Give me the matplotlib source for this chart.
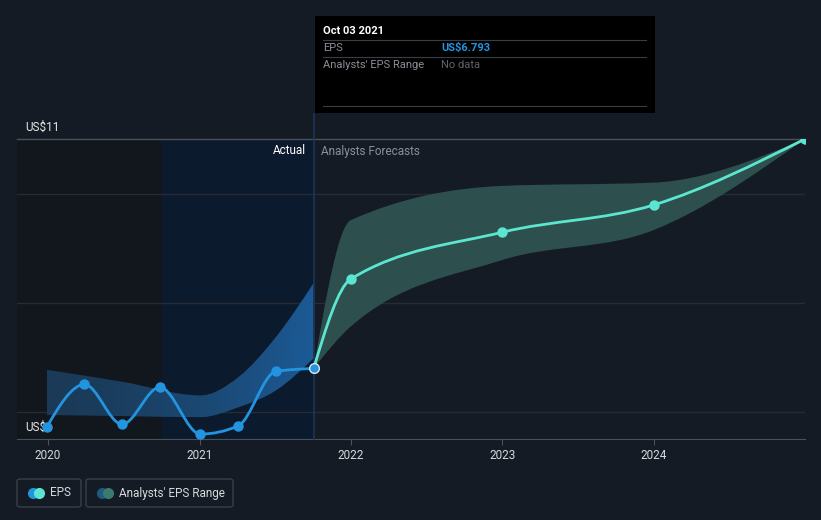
"""EPS history and analyst forecast chart, dark theme."""

import matplotlib
matplotlib.use("Agg")
import matplotlib.pyplot as plt
import numpy as np
import pandas as pd
from matplotlib.patches import FancyBboxPatch, PathPatch, Rectangle
from matplotlib.path import Path

plt.rcParams["font.family"] = ["Roboto", "DejaVu Sans"]

# actual EPS (US$)
actual_dates = ["2019-12-29", "2020-03-29", "2020-06-28", "2020-09-27",
                "2021-01-03", "2021-04-04", "2021-07-04", "2021-10-03"]
actual_eps = [5.72, 6.50, 5.77, 6.45, 5.59, 5.74, 6.74, 6.793]

# analysts' past range around the actuals
past_range_dates = ["2019-12-29", "2020-06-28", "2021-01-03", "2021-04-04",
                    "2021-07-04", "2021-10-03"]
past_range_high = [6.77, 6.55, 6.30, 6.63, 7.37, 8.36]
past_range_low = [5.94, 5.92, 5.90, 6.08, 6.39, 6.98]

# forecasts
forecast_dates = ["2021-10-03", "2021-12-31", "2022-12-31", "2023-12-31", "2024-12-31"]
forecast_eps = [6.793, 8.43, 9.29, 9.79, 11.0]
forecast_high = [6.793, 9.51, 10.14, 10.20, 11.0]
forecast_low = [6.793, 7.56, 8.78, 9.33, 11.0]

year_ticks = [2020, 2021, 2022, 2023, 2024]
y_grid = [6, 8, 10]
y_top = 11

BG = "#151b24"
BLUE = "#2394df"
TEAL = "#5ce5cf"


def to_year(dates):
    d = pd.to_datetime(dates)
    start = pd.to_datetime([f"{y}-01-01" for y in d.year])
    end = pd.to_datetime([f"{y + 1}-01-01" for y in d.year])
    return np.asarray(d.year + (d - start) / (end - start), dtype=float)


def monotone_slopes(x, y):
    x = np.asarray(x, float)
    y = np.asarray(y, float)
    n = len(x)
    h = np.diff(x)
    s = np.diff(y) / h
    m = np.zeros(n)
    for i in range(1, n - 1):
        p = (s[i - 1] * h[i] + s[i] * h[i - 1]) / (h[i - 1] + h[i])
        m[i] = (np.sign(s[i - 1]) + np.sign(s[i])) * min(abs(s[i - 1]), abs(s[i]), 0.5 * abs(p))
    if n > 2:
        m[0] = (3 * s[0] - m[1]) / 2
        m[-1] = (3 * s[-1] - m[-2]) / 2
    else:
        m[:] = s[0]
    return m


def curve_vertices(x, y):
    m = monotone_slopes(x, y)
    verts = [(x[0], y[0])]
    codes = [Path.MOVETO]
    for i in range(len(x) - 1):
        h = (x[i + 1] - x[i]) / 3
        verts += [(x[i] + h, y[i] + m[i] * h),
                  (x[i + 1] - h, y[i + 1] - m[i + 1] * h),
                  (x[i + 1], y[i + 1])]
        codes += [Path.CURVE4] * 3
    return verts, codes


def curve_path(x, y):
    verts, codes = curve_vertices(x, y)
    return Path(verts, codes)


def band_path(x, lo, hi):
    v1, c1 = curve_vertices(x, hi)
    v2, c2 = curve_vertices(x[::-1], lo[::-1])
    c2[0] = Path.LINETO
    verts = v1 + v2 + [v1[0]]
    codes = c1 + c2 + [Path.CLOSEPOLY]
    return Path(verts, codes)


xa = to_year(actual_dates)
xr = to_year(past_range_dates)
xf = to_year(forecast_dates)
x_now = xa[-1]

fig = plt.figure(figsize=(8.21, 5.2), dpi=100, facecolor=BG)
ax = fig.add_axes([17 / 821, 81 / 520, 788 / 821, 300 / 520])
ax.set_facecolor(BG)
x0, x1 = 2019.795, 2024.997
ax.set_xlim(x0, x1)
ax.set_ylim(5.5, y_top)

# shaded "actual" regions
ax.axvspan(x0, x_now - 1, color="#12161d", zorder=0, lw=0)
ax.axvspan(x_now - 1, x_now, color="#0c1a2e", zorder=0, lw=0)

for g in y_grid:
    ax.axhline(g, color="#262c36", lw=1, zorder=1)
ax.axhline(y_top, color="#4b515b", lw=1, zorder=1, clip_on=False)

# past analysts' range with a left-to-right gradient
past_band = PathPatch(band_path(xr, np.array(past_range_low), np.array(past_range_high)),
                      facecolor="none", edgecolor="none")
ax.add_patch(past_band)
grad = np.linspace(0, 1, 256).reshape(1, -1) ** 1.5
cmap = matplotlib.colors.LinearSegmentedColormap.from_list(
    "pb", ["#1a3a57", "#1c5a96"])
im = ax.imshow(grad, extent=[xr[0], xr[-1], 5.5, y_top], aspect="auto",
               cmap=cmap, zorder=2, interpolation="bilinear")
im.set_clip_path(past_band)

# forecast range
ax.add_patch(PathPatch(band_path(xf, np.array(forecast_low), np.array(forecast_high)),
                       facecolor="#2d4f4e", edgecolor="none", zorder=2))

# y labels sit under the markers
ax.text(x0 + 0.053, 11.22, "US$11", color="#e6e8ea", fontsize=8.5, va="center",
        clip_on=False, zorder=3)
ax.text(x0 + 0.053, 5.72, "US$6", color="#e6e8ea", fontsize=8.5, va="center",
        clip_on=False, zorder=3)

# lines
ax.add_patch(PathPatch(curve_path(xa, actual_eps), facecolor="none",
                       edgecolor=BLUE, lw=2.0, zorder=4, capstyle="round"))
ax.add_patch(PathPatch(curve_path(xf, forecast_eps), facecolor="none",
                       edgecolor=TEAL, lw=2.0, zorder=4, capstyle="round"))
ax.plot(xa[:-1], actual_eps[:-1], "o", color=BLUE, ms=6.5, zorder=5)
ax.plot(xf[1:], forecast_eps[1:], "o", color=TEAL, ms=6.5, zorder=5)
ax.plot(xa[-1], actual_eps[-1], "o", color=BLUE, ms=7, mec="#d8e6f2", mew=1.0, zorder=6)

# divider line
ax.plot([x_now, x_now], [5.5, 11.45], color="#1d3558", lw=1.2, zorder=3, clip_on=False)

ax.text(x_now - 0.05, 10.78, "Actual", color="white", fontsize=8.5, ha="right", va="center")
ax.text(x_now + 0.05, 10.78, "Analysts Forecasts", color="#8b9098", fontsize=8.5,
        ha="left", va="center")

# axes
for side in ["top", "right", "left"]:
    ax.spines[side].set_visible(False)
ax.spines["bottom"].set_color("#4b515b")
ax.set_yticks([])
ax.set_xticks(year_ticks)
ax.set_xticklabels([str(y) for y in year_ticks])
ax.tick_params(axis="x", colors="#4b515b", length=4, labelcolor="#d6d9dd",
               labelsize=8.5, pad=3)

# tooltip
fig.patches.append(Rectangle((315 / 821, 1 - 113 / 520), 340 / 821, 97 / 520,
                             transform=fig.transFigure, facecolor="black",
                             edgecolor="none", zorder=10))
for yy in [40, 57, 106]:
    fig.lines.append(plt.Line2D([323 / 821, 646 / 821], [1 - yy / 520] * 2,
                                transform=fig.transFigure, color="#3a3e44", lw=0.8,
                                zorder=11))
fig.text(323 / 821, 1 - 31 / 520, "Oct 03 2021", color="white", fontsize=8,
         fontweight="bold", va="center", zorder=12)
fig.text(323 / 821, 1 - 48 / 520, "EPS", color="#8b9098", fontsize=8, va="center", zorder=12)
fig.text(441 / 821, 1 - 48 / 520, f"US${actual_eps[-1]:.3f}", color=BLUE, fontsize=8,
         fontweight="bold", va="center", zorder=12)
fig.text(323 / 821, 1 - 65 / 520, "Analysts' EPS Range", color="#8b9098", fontsize=8,
         va="center", zorder=12)
fig.text(441 / 821, 1 - 65 / 520, "No data", color="#5f646b", fontsize=8, va="center",
         zorder=12)

# legend
for (bx, bw, label, c1, c2) in [(17, 64, "EPS", BLUE, TEAL),
                                (86, 147, "Analysts' EPS Range", "#1f5a80", "#3a7a70")]:
    fig.patches.append(FancyBboxPatch((bx / 821, 1 - 507 / 520), bw / 821, 28 / 520,
                                      boxstyle="round,pad=0,rounding_size=0.004",
                                      transform=fig.transFigure, facecolor="none",
                                      edgecolor="#3a404a", lw=1))
    fig.lines.append(plt.Line2D([(bx + 16) / 821], [1 - 493 / 520], marker="o", ms=7,
                                color=c1, transform=fig.transFigure, lw=0))
    fig.lines.append(plt.Line2D([(bx + 22) / 821], [1 - 493 / 520], marker="o", ms=7,
                                color=c2, transform=fig.transFigure, lw=0))
    fig.text((bx + 33) / 821, 1 - 493 / 520, label, color="#d6d9dd", fontsize=8.5,
             va="center")

fig.savefig("out.png", dpi=100, facecolor=BG)
